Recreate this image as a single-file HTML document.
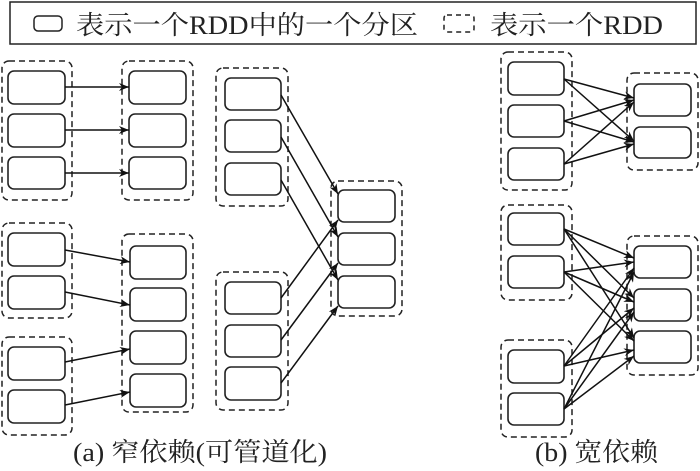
<!DOCTYPE html>
<html><head><meta charset="utf-8"><style>
html,body{margin:0;padding:0;background:#fff;}
svg{display:block;}
text{font-family:"Liberation Serif","Noto Serif CJK SC",serif;fill:#222;}
</style></head><body>
<svg width="700" height="471" viewBox="0 0 700 471" xmlns="http://www.w3.org/2000/svg">
<defs>
<marker id="a" viewBox="0 0 10 8" refX="10" refY="4" markerWidth="11" markerHeight="8" markerUnits="userSpaceOnUse" orient="auto">
<path d="M0,0 L10,4 L0,8 L3,4 z" fill="#111"/></marker>
</defs>
<rect x="10" y="2" width="686" height="42" fill="#fff" stroke="#222" stroke-width="1.5"/>
<rect x="34" y="16" width="28" height="15" rx="4" fill="none" stroke="#222" stroke-width="1.5"/>
<text x="76" y="34" font-size="26" textLength="342" lengthAdjust="spacingAndGlyphs">表示一个RDD中的一个分区</text>
<rect x="444" y="15" width="30" height="17" rx="3" fill="none" stroke="#222" stroke-width="1.5" stroke-dasharray="5,4"/>
<text x="490" y="34" font-size="26" textLength="173" lengthAdjust="spacingAndGlyphs">表示一个RDD</text>

<g fill="none" stroke="#222" stroke-width="1.5" stroke-dasharray="6,4">
<rect x="2" y="61" width="70" height="139" rx="7"/>
<rect x="122" y="61" width="71" height="139" rx="7"/>
<rect x="2" y="223" width="70" height="95" rx="7"/>
<rect x="2" y="337" width="70" height="98" rx="7"/>
<rect x="122" y="234" width="71" height="178" rx="7"/>
<rect x="216" y="68" width="72" height="138" rx="7"/>
<rect x="216" y="272" width="72" height="138" rx="7"/>
<rect x="331" y="181" width="71" height="135" rx="7"/>
<rect x="501" y="52" width="71" height="138" rx="7"/>
<rect x="627" y="73" width="71" height="97" rx="7"/>
<rect x="501" y="205" width="71" height="95" rx="7"/>
<rect x="501" y="340" width="71" height="97" rx="7"/>
<rect x="627" y="236" width="71" height="139" rx="7"/>
</g>

<g fill="#fff" stroke="#222" stroke-width="1.6">
<rect x="8" y="71" width="57" height="33" rx="6"/><rect x="8" y="114" width="57" height="33" rx="6"/><rect x="8" y="157" width="57" height="32" rx="6"/>
<rect x="129" y="71" width="57" height="33" rx="6"/><rect x="129" y="114" width="57" height="33" rx="6"/><rect x="129" y="157" width="57" height="32" rx="6"/>
<rect x="8" y="233" width="57" height="33" rx="6"/><rect x="8" y="276" width="57" height="33" rx="6"/>
<rect x="8" y="347" width="57" height="33" rx="6"/><rect x="8" y="390" width="57" height="33" rx="6"/>
<rect x="130" y="246" width="56" height="33" rx="6"/><rect x="130" y="288" width="56" height="33" rx="6"/><rect x="130" y="331" width="56" height="33" rx="6"/><rect x="130" y="374" width="56" height="33" rx="6"/>
<rect x="225" y="78" width="56" height="32" rx="6"/><rect x="225" y="120" width="56" height="32" rx="6"/><rect x="225" y="163" width="56" height="32" rx="6"/>
<rect x="225" y="282" width="56" height="32" rx="6"/><rect x="225" y="325" width="56" height="32" rx="6"/><rect x="225" y="367" width="56" height="33" rx="6"/>
<rect x="338" y="190" width="57" height="32" rx="6"/><rect x="338" y="233" width="57" height="32" rx="6"/><rect x="338" y="276" width="57" height="32" rx="6"/>
<rect x="508" y="62" width="56" height="33" rx="6"/><rect x="508" y="105" width="56" height="32" rx="6"/><rect x="508" y="148" width="56" height="32" rx="6"/>
<rect x="634" y="84" width="57" height="32" rx="6"/><rect x="634" y="127" width="57" height="31" rx="6"/>
<rect x="508" y="213" width="56" height="32" rx="6"/><rect x="508" y="256" width="56" height="32" rx="6"/>
<rect x="508" y="350" width="56" height="33" rx="6"/><rect x="508" y="393" width="56" height="32" rx="6"/>
<rect x="634" y="246" width="57" height="32" rx="6"/><rect x="634" y="289" width="57" height="32" rx="6"/><rect x="634" y="331" width="57" height="32" rx="6"/>
</g>

<g stroke="#111" stroke-width="1.5" marker-end="url(#a)">
<line x1="65" y1="87" x2="129" y2="87"/><line x1="65" y1="130" x2="129" y2="130"/><line x1="65" y1="173" x2="129" y2="173"/>
<line x1="65" y1="250" x2="130" y2="262"/><line x1="65" y1="292" x2="130" y2="305"/>
<line x1="65" y1="362" x2="130" y2="349"/><line x1="65" y1="405" x2="130" y2="392"/>
<line x1="281" y1="95" x2="338" y2="194"/><line x1="281" y1="137" x2="338" y2="237"/><line x1="281" y1="180" x2="338" y2="280"/>
<line x1="281" y1="298" x2="338" y2="220"/><line x1="281" y1="340" x2="338" y2="263"/><line x1="281" y1="383" x2="338" y2="306"/>
<line x1="564" y1="79" x2="634" y2="98"/><line x1="564" y1="79" x2="634" y2="141"/>
<line x1="564" y1="121" x2="634" y2="100"/><line x1="564" y1="121" x2="634" y2="142"/>
<line x1="564" y1="164" x2="634" y2="102"/><line x1="564" y1="164" x2="634" y2="144"/>
<line x1="564" y1="229" x2="634" y2="258"/><line x1="564" y1="229" x2="634" y2="298"/><line x1="564" y1="229" x2="634" y2="338"/>
<line x1="564" y1="272" x2="634" y2="262"/><line x1="564" y1="272" x2="634" y2="302"/><line x1="564" y1="272" x2="634" y2="341"/>
<line x1="564" y1="366" x2="634" y2="268"/><line x1="564" y1="366" x2="634" y2="308"/><line x1="564" y1="366" x2="634" y2="350"/>
<line x1="564" y1="409" x2="634" y2="272"/><line x1="564" y1="409" x2="634" y2="312"/><line x1="564" y1="409" x2="634" y2="356"/>
</g>

<text x="73" y="461" font-size="26" textLength="254" lengthAdjust="spacingAndGlyphs">(a) 窄依赖(可管道化)</text>
<text x="535" y="461" font-size="26" textLength="123" lengthAdjust="spacingAndGlyphs">(b) 宽依赖</text>
</svg>
</body></html>
